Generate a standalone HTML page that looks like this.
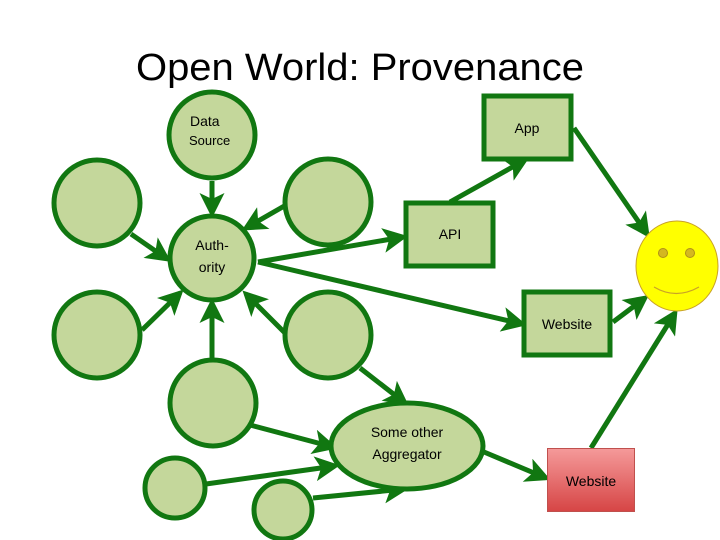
<!DOCTYPE html>
<html><head><meta charset="utf-8"><style>
html,body{margin:0;padding:0;background:#fff;}
svg{display:block;}
text{font-family:"Liberation Sans",sans-serif;fill:#000;}
</style></head><body>
<svg width="720" height="540" viewBox="0 0 720 540" xmlns="http://www.w3.org/2000/svg">
<defs>
<marker id="ah" markerWidth="5" markerHeight="5" refX="4" refY="2.5" orient="auto" markerUnits="strokeWidth">
<path d="M0,0 L5,2.5 L0,5 L1.2,2.5 Z" fill="#117711"/>
</marker>
<linearGradient id="red" x1="0" y1="0" x2="0" y2="1">
<stop offset="0" stop-color="#f59a9a"/><stop offset="1" stop-color="#d64545"/>
</linearGradient>
</defs>
<text x="360" y="80" font-size="38" text-anchor="middle" textLength="448" lengthAdjust="spacingAndGlyphs">Open World: Provenance</text>
<g stroke="#117711" stroke-width="5" fill="none" marker-end="url(#ah)">
<line x1="212" y1="181" x2="212" y2="213"/>
<line x1="131" y1="234" x2="167" y2="259"/>
<line x1="142" y1="330" x2="180" y2="293"/>
<line x1="286" y1="205" x2="246" y2="228"/>
<line x1="285" y1="333" x2="246" y2="294"/>
<line x1="212" y1="358" x2="212" y2="303"/>
<line x1="258" y1="262" x2="403" y2="237"/>
<line x1="258" y1="262" x2="522" y2="324"/>
<line x1="450" y1="202" x2="525" y2="160"/>
<line x1="574" y1="128" x2="647" y2="234"/>
<line x1="613" y1="322" x2="645" y2="298"/>
<line x1="591" y1="448" x2="675" y2="313"/>
<line x1="360" y1="368" x2="405" y2="403"/>
<line x1="250" y1="425" x2="333" y2="447"/>
<line x1="206" y1="484" x2="335" y2="466"/>
<line x1="313" y1="498" x2="404" y2="489"/>
<line x1="484" y1="452" x2="546" y2="478"/>
</g>
<g fill="#c4d79b" stroke="#117711" stroke-width="5">
<circle cx="212" cy="135" r="43"/>
<circle cx="212" cy="258" r="42"/>
<circle cx="97" cy="203" r="43"/>
<circle cx="97" cy="335" r="43"/>
<circle cx="328" cy="202" r="43"/>
<circle cx="328" cy="335" r="43"/>
<circle cx="213" cy="403" r="43"/>
<circle cx="175" cy="488" r="30"/>
<circle cx="283" cy="510" r="29"/>
<ellipse cx="407" cy="446" rx="76" ry="43"/>
<rect x="484" y="96" width="87" height="63"/>
<rect x="406" y="203" width="87" height="63"/>
<rect x="524" y="292" width="86" height="63"/>
</g>
<rect x="547.5" y="448.5" width="87" height="63" fill="url(#red)" stroke="#c0504d" stroke-width="1"/>
<ellipse cx="677" cy="266" rx="41" ry="45" fill="#ffff00" stroke="#c9a227" stroke-width="1"/>
<circle cx="663" cy="253" r="4.5" fill="#d4b820" stroke="#b09018" stroke-width="1"/>
<circle cx="690" cy="253" r="4.5" fill="#d4b820" stroke="#b09018" stroke-width="1"/>
<path d="M654,287 Q676,300 699,287" fill="none" stroke="#c9a227" stroke-width="1.2"/>
<g font-size="14">
<text x="190" y="126">Data</text>
<text x="189" y="145" font-size="13">Source</text>
<text x="212" y="250" text-anchor="middle">Auth-</text>
<text x="212" y="272" text-anchor="middle">ority</text>
<text x="527" y="133" text-anchor="middle">App</text>
<text x="450" y="239" text-anchor="middle">API</text>
<text x="567" y="329" text-anchor="middle">Website</text>
<text x="591" y="486" text-anchor="middle">Website</text>
<text x="407" y="437" text-anchor="middle">Some other</text>
<text x="407" y="459" text-anchor="middle">Aggregator</text>
</g>
</svg>
</body></html>
